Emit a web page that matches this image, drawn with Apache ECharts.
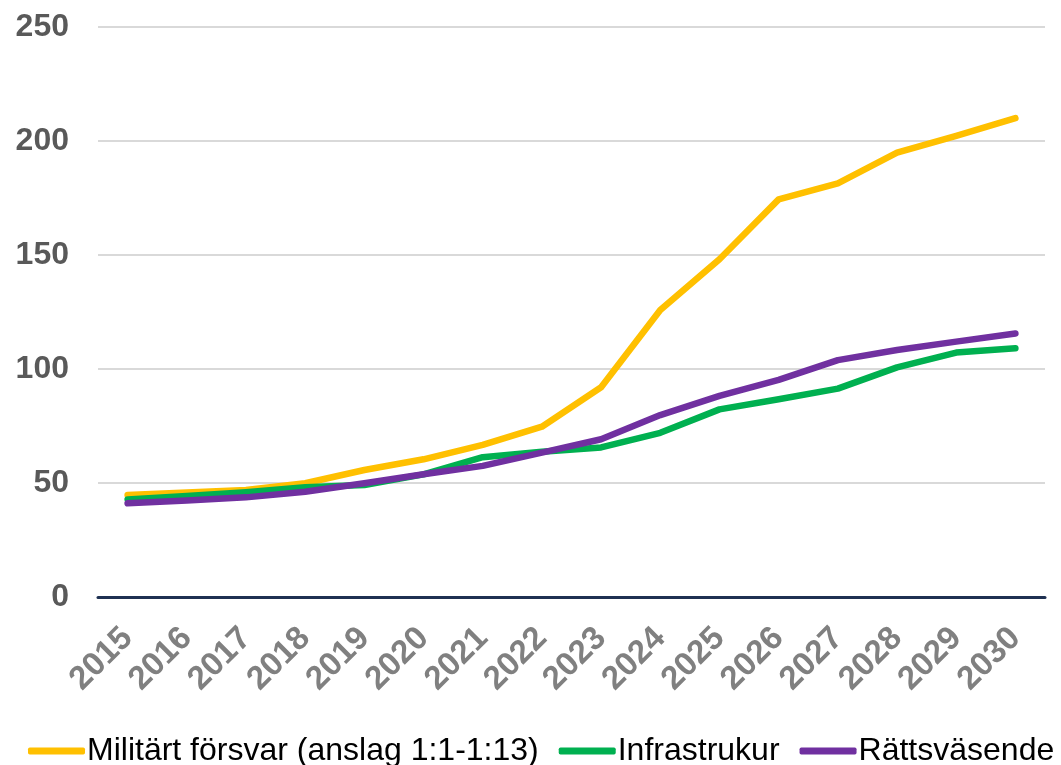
<!DOCTYPE html>
<html>
<head>
<meta charset="utf-8">
<script src="https://cdn.jsdelivr.net/npm/echarts@6/dist/echarts.min.js"></script>
<style>
html,body{margin:0;padding:0;background:#fff;}
#chart{width:1061px;height:765px;}
</style>
</head>
<body>
<div id="chart"></div>
<script>
var years = ['2015','2016','2017','2018','2019','2020','2021','2022','2023','2024','2025','2026','2027','2028','2029','2030'];
var militart = [44.7, 45.8, 46.9, 49.9, 55.7, 60.4, 66.7, 74.7, 92.0, 125.9, 148.1, 174.4, 181.4, 194.9, 202.2, 210.0];
var infrastruktur = [42.8, 44.3, 46.0, 48.1, 49.1, 53.8, 61.3, 63.7, 65.6, 72.0, 82.3, 86.7, 91.4, 100.7, 107.2, 109.1];
var rattsvasende = [41.1, 42.3, 43.7, 46.2, 49.9, 53.8, 57.5, 63.3, 69.2, 79.8, 88.2, 95.2, 103.9, 108.3, 112.0, 115.6];
var seriesNames = ['Militärt försvar (anslag 1:1-1:13)', 'Infrastrukur', 'Rättsväsende'];
var yTicks = [0, 50, 100, 150, 200, 250];

var chart = echarts.init(document.getElementById('chart'));
var font = 'Liberation Sans, Arial, sans-serif';
function mk(name, data, color) {
  return {
    name: name, type: 'line', data: data, symbol: 'none',
    lineStyle: { color: color, width: 6.5, cap: 'round', join: 'round' },
    itemStyle: { color: color }
  };
}
chart.setOption({
  animation: false,
  textStyle: { fontFamily: font },
  grid: { left: 98, right: 16, top: 27, bottom: 168, containLabel: false },
  xAxis: {
    type: 'category', data: years, boundaryGap: true,
    axisLine: { lineStyle: { color: '#1F3152', width: 3 } },
    axisTick: { show: false },
    axisLabel: { rotate: 45, color: '#808080', fontWeight: 'bold', fontSize: 33, margin: 36, fontFamily: font, interval: 0 }
  },
  yAxis: {
    type: 'value', min: yTicks[0], max: yTicks[yTicks.length - 1], interval: 50,
    axisLine: { show: false }, axisTick: { show: false },
    splitLine: { lineStyle: { color: '#D9D9D9', width: 2 } },
    axisLabel: { color: '#595959', fontWeight: 'bold', fontSize: 32, margin: 29, fontFamily: font }
  },
  legend: {
    bottom: -2, left: 28, right: 0, padding: 0,
    itemWidth: 57, itemHeight: 7, itemGap: 20,
    icon: 'roundRect',
    textStyle: { color: '#000', fontSize: 32, fontFamily: font, padding: [0, 0, 0, -3] },
    data: seriesNames
  },
  series: [
    mk(seriesNames[0], militart, '#FFC000'),
    mk(seriesNames[1], infrastruktur, '#00B050'),
    mk(seriesNames[2], rattsvasende, '#7030A0')
  ]
});
</script>
</body>
</html>
